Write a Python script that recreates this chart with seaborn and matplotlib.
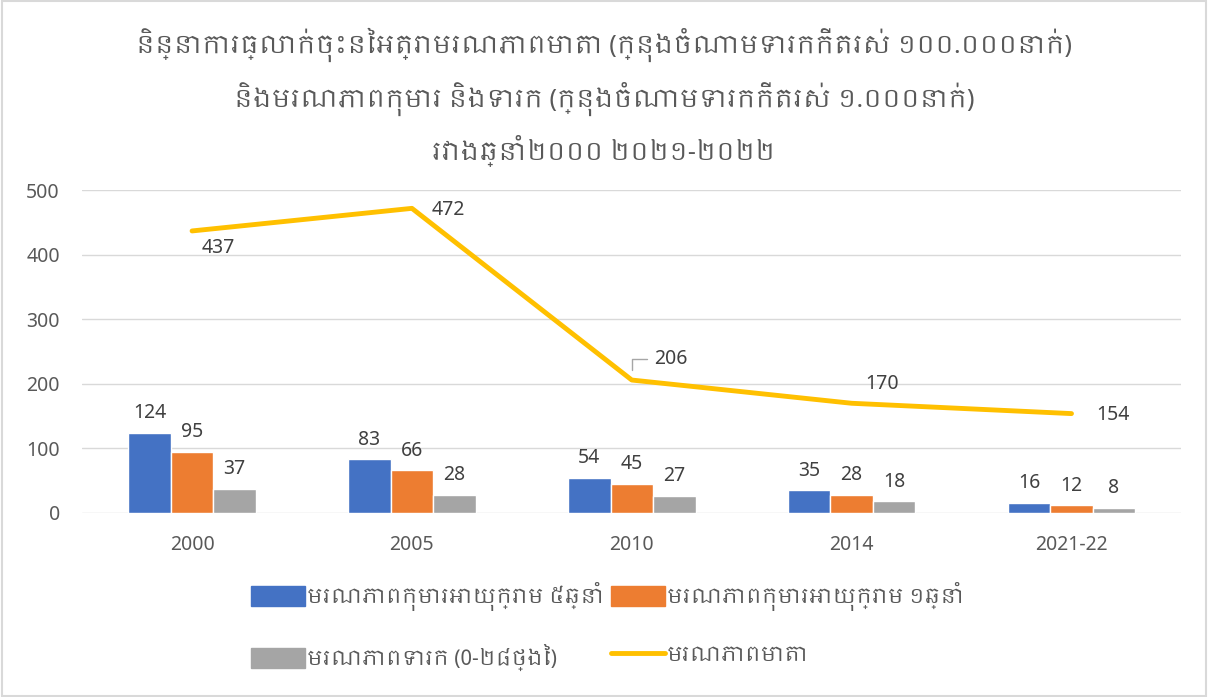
import numpy as np
import pandas as pd
import matplotlib
matplotlib.use("Agg")
import matplotlib.pyplot as plt
import seaborn as sns
from matplotlib import font_manager
from matplotlib.lines import Line2D
from matplotlib.patches import Rectangle

# data
years = ["2000", "2005", "2010", "2014", "2021-22"]
under5 = [124, 83, 54, 35, 16]
under1 = [95, 66, 45, 28, 12]
neonatal = [37, 28, 27, 18, 8]
maternal = [437, 472, 206, 170, 154]

series_names = [
    "មរណភាពកុមារអាយុក្រោម ៥ឆ្នាំ",
    "មរណភាពកុមារអាយុក្រោម ១ឆ្នាំ",
    "មរណភាពទារក (0-២៨ថ្ងៃ)",
]
line_name = "មរណភាពមាតា"
title = ("និន្នាការធ្លាក់ចុះនៃអត្រាមរណភាពមាតា (ក្នុងចំណោមទារកកើតរស់ ១០០.០០០នាក់)\n"
         "និងមរណភាពកុមារ និងទារក (ក្នុងចំណោមទារកកើតរស់ ១.០០០នាក់)\n"
         "រវាងឆ្នាំ២០០០ ២០២១-២០២២")

bar_colors = ["#4472C4", "#ED7D31", "#A5A5A5"]
line_color = "#FFC000"
text_color = "#595959"
num_color = "#404040"
num_font = ["Noto Sans", "DejaVu Sans"]

sns.set_theme(style="white")
khmer = sorted({f.name for f in font_manager.fontManager.ttflist if "khmer" in f.name.lower()})
plt.rcParams["font.family"] = khmer[:1] + ["DejaVu Sans"]

df = pd.DataFrame({
    "year": years * 3,
    "value": under5 + under1 + neonatal,
    "series": sum([[n] * len(years) for n in series_names], []),
})

fig = plt.figure(figsize=(12.08, 6.97), dpi=100)
ax = fig.add_axes([0.068, 0.264, 0.910, 0.463])

sns.barplot(data=df, x="year", y="value", hue="series", order=years,
            hue_order=series_names, palette=bar_colors, width=0.58,
            saturation=1, ax=ax, legend=False)
for cont in ax.containers:
    ax.bar_label(cont, padding=7, fontsize=14, color=num_color, family=num_font)

xs = np.arange(len(years))
ax.plot(xs, maternal, color=line_color, lw=3.5, solid_capstyle="round", zorder=3)

offsets = [(19, -12), (26, -1), (28, 15), (22, 14), (30, -1)]
for i, (x, v, off) in enumerate(zip(xs, maternal, offsets)):
    arrow = None
    if i == 2:
        # small leader line like the reference
        arrow = dict(arrowstyle="-", color="#A6A6A6", lw=1, shrinkA=3, shrinkB=7,
                     relpos=(0, 0.5), connectionstyle="angle,angleA=0,angleB=90,rad=0")
    ax.annotate(str(v), (x, v), xytext=off, textcoords="offset points",
                ha="center", va="center", fontsize=14, color=num_color,
                family=num_font, arrowprops=arrow)

ax.set_xlim(-0.5, len(years) - 0.5)
ax.set_ylim(0, 500)
ax.set_yticks(range(0, 501, 100))
ax.yaxis.grid(True, color="#D9D9D9", lw=1)
ax.set_axisbelow(True)
ax.set_xlabel("")
ax.set_ylabel("")
ax.tick_params(axis="both", labelsize=14, colors=text_color, length=0)
ax.tick_params(axis="x", pad=16)
ax.tick_params(axis="y", pad=16)
for lab in ax.get_xticklabels() + ax.get_yticklabels():
    lab.set_family(num_font)
sns.despine(ax=ax, left=True, bottom=True)

fig.text(0.5, 0.86, title, ha="center", va="center", fontsize=18,
         color=text_color, linespacing=1.77)

handles = [Rectangle((0, 0), 1, 1, color=bar_colors[0]),
           Rectangle((0, 0), 1, 1, color=bar_colors[2]),
           Rectangle((0, 0), 1, 1, color=bar_colors[1]),
           Line2D([], [], color=line_color, lw=3.5, solid_capstyle="round")]
labels = [series_names[0], series_names[2], series_names[1], line_name]
fig.legend(handles, labels, ncol=2, loc="center", bbox_to_anchor=(0.503, 0.101),
           frameon=False, fontsize=15, labelcolor=text_color, handlelength=2.6,
           handleheight=1.1, handletextpad=0.1, columnspacing=0.3,
           labelspacing=1.6)

fig.patches.append(Rectangle((0.002, 0.002), 0.996, 0.996, transform=fig.transFigure,
                             fill=False, edgecolor="#D9D9D9", lw=1.5))

fig.savefig("out.png", dpi=100)
